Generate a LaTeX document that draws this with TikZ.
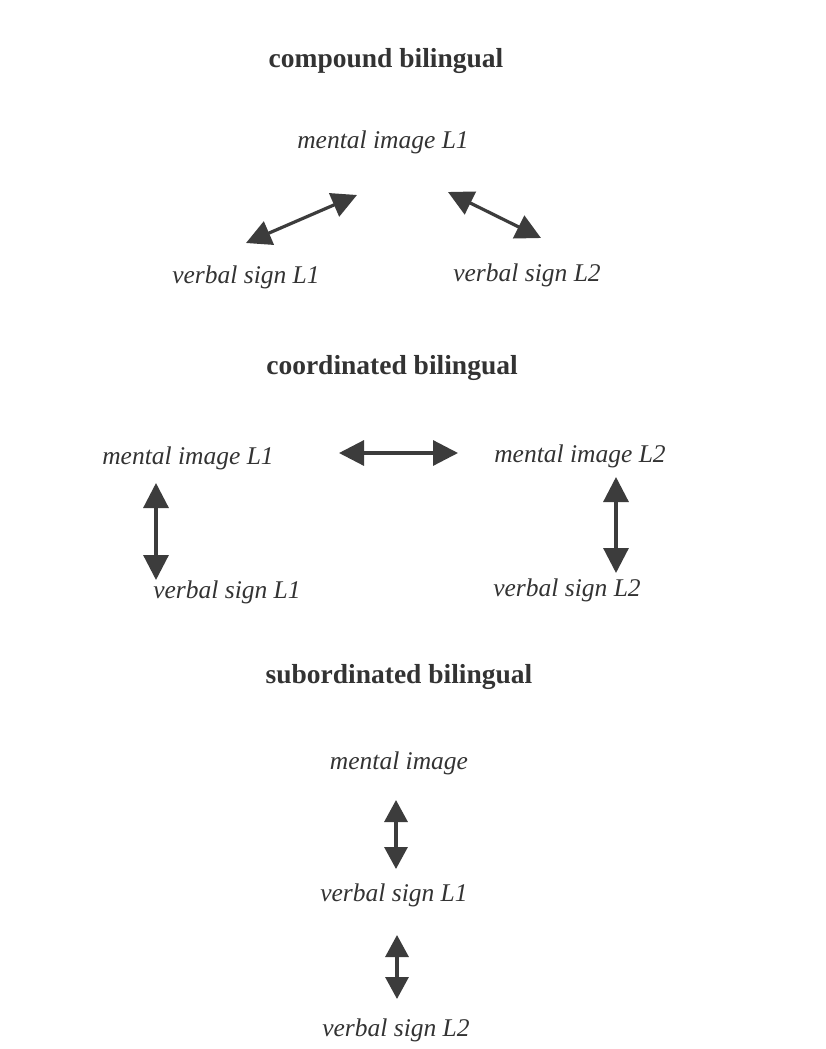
\documentclass[tikz,border=0pt]{standalone}
\usepackage{fontspec}
\setmainfont{Liberation Serif}
\usetikzlibrary{arrows.meta}
\definecolor{ink}{HTML}{333333}
\definecolor{arr}{HTML}{3C3C3C}
\begin{document}
\begin{tikzpicture}[x=1pt,y=-1pt,
  title/.style={anchor=base,inner sep=0pt,text=ink,font=\fontsize{27.5}{30}\selectfont\bfseries},
  lbl/.style={anchor=base,inner sep=0pt,text=ink,font=\fontsize{25.5}{30}\selectfont\itshape},
  link/.style={draw=arr,line width=3.2pt,{Triangle[length=25pt,width=25pt]}-{Triangle[length=25pt,width=25pt]}},
  slink/.style={draw=arr,line width=3.2pt,{Triangle[length=22pt,width=23pt]}-{Triangle[length=22pt,width=23pt]}}]
\useasboundingbox (0,0) rectangle (826,1049);
\fill[white] (0,0) rectangle (826,1049);
% compound
\node[title] (t1) at (386,67) {compound bilingual};
\node[lbl] (cm) at (383,148) {mental image L1};
\node[lbl] (cv1) at (246,283) {verbal sign L1};
\node[lbl] (cv2) at (527,281) {verbal sign L2};
\coordinate (a1s) at (246,243);
\coordinate (a1e) at (357,195);
\coordinate (a2s) at (448,192);
\coordinate (a2e) at (541,238);
\draw[link] (a1s) -- (a1e);
\draw[link] (a2s) -- (a2e);
% coordinated
\node[title] (t2) at (392,374) {coordinated bilingual};
\node[lbl] (dm1) at (188,464) {mental image L1};
\node[lbl] (dm2) at (580,462) {mental image L2};
\node[lbl] (dv1) at (227,598) {verbal sign L1};
\node[lbl] (dv2) at (567,596) {verbal sign L2};
\coordinate (b1s) at (339,453);
\coordinate (b1e) at (458,453);
\coordinate (b2s) at (156,483);
\coordinate (b2e) at (156,580);
\coordinate (b3s) at (616,477);
\coordinate (b3e) at (616,573);
\draw[link] (b1s) -- (b1e);
\draw[link] (b2s) -- (b2e);
\draw[link] (b3s) -- (b3e);
% subordinated
\node[title] (t3) at (399,683) {subordinated bilingual};
\node[lbl] (sm) at (399,769) {mental image};
\node[lbl] (sv1) at (394,901) {verbal sign L1};
\node[lbl] (sv2) at (396,1036) {verbal sign L2};
\coordinate (c1s) at (396,800);
\coordinate (c1e) at (396,869);
\coordinate (c2s) at (397,935);
\coordinate (c2e) at (397,999);
\draw[slink] (c1s) -- (c1e);
\draw[slink] (c2s) -- (c2e);
\end{tikzpicture}
\end{document}
